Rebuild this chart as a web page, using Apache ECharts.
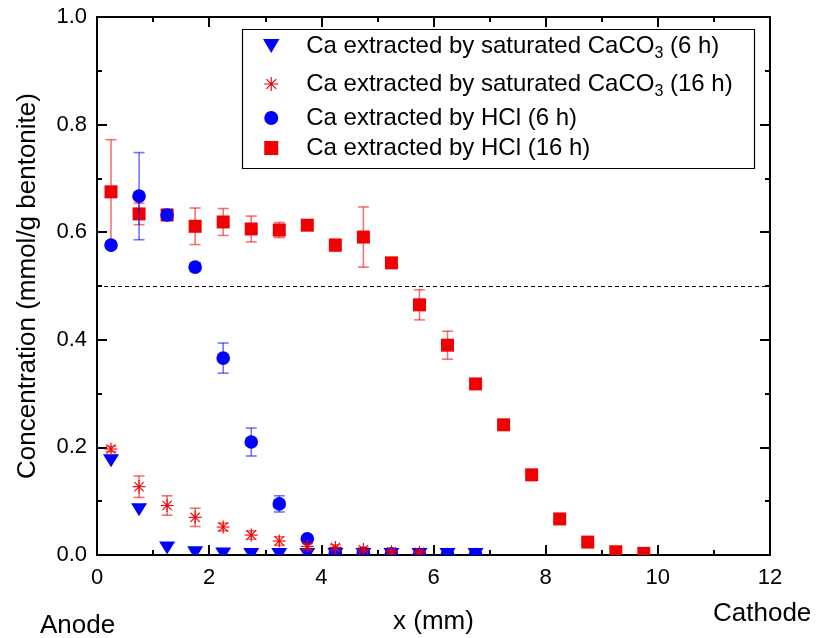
<!DOCTYPE html>
<html><head><meta charset="utf-8">
<script src="https://cdn.jsdelivr.net/npm/echarts@6/dist/echarts.min.js"></script>
<style>html,body{margin:0;padding:0;background:#fff}#c{width:823px;height:638px}</style>
</head><body><div id="c"></div>
<script>
// ---- data ----
const xHcl16 = [0.25,0.75,1.25,1.75,2.25,2.75,3.25,3.75,4.25,4.75,5.25,5.75,6.25,6.75,7.25,7.75,8.25,8.75,9.25,9.75];
const yHcl16 = [0.675,0.634,0.632,0.611,0.619,0.606,0.604,0.613,0.576,0.591,0.543,0.465,0.390,0.318,0.242,0.149,0.067,0.024,0.006,0.003];
const eHcl16 = [0.097,0.020,0.008,0.034,0.025,0.024,0.014,0.008,0.011,0.056,0.004,0.028,0.026,0.008,0.004,0.004,0.004,0.003,0.002,0.002];

const xHcl6 = [0.25,0.75,1.25,1.75,2.25,2.75,3.25,3.75,4.25,4.75,5.25,5.75,6.25,6.75];
const yHcl6 = [0.576,0.667,0.632,0.535,0.366,0.210,0.095,0.030,0.004,0.003,0.002,0.001,0.001,0.001];
const eHcl6 = [0.005,0.081,0.010,0.008,0.028,0.026,0.015,0.004,0.003,0,0,0,0,0];

const xCa6 = [0.25,0.75,1.25,1.75,2.25,2.75,3.25,3.75,4.25,4.75,5.25,5.75,6.25,6.75];
const yCa6 = [0.175,0.084,0.013,0.004,0.002,0.001,0.001,0.001,0.001,0.001,0.001,0.001,0.001,0.001];

const xCa16 = [0.25,0.75,1.25,1.75,2.25,2.75,3.25,3.75,4.25,4.75,5.25,5.75];
const yCa16 = [0.197,0.127,0.092,0.070,0.052,0.037,0.026,0.016,0.014,0.010,0.006,0.005];
const eCa16 = [0.005,0.020,0.018,0.017,0.007,0.008,0.008,0.005,0.005,0.004,0.003,0.002];

const refLine = 0.504;
const xTicks = [0,2,4,6,8,10,12];
const yTicks = [0.0,0.2,0.4,0.6,0.8,1.0];

const names = [
  'Ca extracted by saturated CaCO3 (6 h)',
  'Ca extracted by saturated CaCO3 (16 h)',
  'Ca extracted by HCl (6 h)',
  'Ca extracted by HCl (16 h)'
];

// ---- styles ----
const RED = '#f00000', BLUE = '#0000ff';
const RED_E = 'rgba(240,0,0,0.55)', BLUE_E = 'rgba(0,0,255,0.55)';
const FONT = '"Liberation Sans", Arial, sans-serif';

function zip(xs, ys, es) { return xs.map((x, i) => [x, ys[i], es ? es[i] : 0]); }

function makeRender(shape, color, ecolor) {
  return function (params, api) {
    const x = api.value(0), y = api.value(1), e = api.value(2);
    const p = api.coord([x, y]);
    const ch = [];
    if (e > 0) {
      const pt = api.coord([x, y + e]), pb = api.coord([x, y - e]);
      const st = { stroke: ecolor, lineWidth: 1.6 };
      ch.push({ type: 'line', shape: { x1: p[0], y1: pt[1], x2: p[0], y2: pb[1] }, style: st });
      ch.push({ type: 'line', shape: { x1: p[0] - 5.5, y1: pt[1], x2: p[0] + 5.5, y2: pt[1] }, style: st });
      ch.push({ type: 'line', shape: { x1: p[0] - 5.5, y1: pb[1], x2: p[0] + 5.5, y2: pb[1] }, style: st });
    }
    const cx = p[0], cy = p[1];
    if (shape === 'square') {
      ch.push({ type: 'rect', shape: { x: cx - 6.5, y: cy - 6.5, width: 13, height: 13 }, style: { fill: color } });
    } else if (shape === 'circle') {
      ch.push({ type: 'circle', shape: { cx: cx, cy: cy, r: 6.8 }, style: { fill: color } });
    } else if (shape === 'tri') {
      ch.push({ type: 'polygon', shape: { points: [[cx - 8, cy - 6.5], [cx + 8, cy - 6.5], [cx, cy + 6.5]] }, style: { fill: color } });
    } else if (shape === 'star') {
      const r = 6.5, d = r * 0.7071;
      const st = { stroke: color, lineWidth: 1.1 };
      ch.push({ type: 'line', shape: { x1: cx - r, y1: cy, x2: cx + r, y2: cy }, style: st });
      ch.push({ type: 'line', shape: { x1: cx, y1: cy - r, x2: cx, y2: cy + r }, style: st });
      ch.push({ type: 'line', shape: { x1: cx - d, y1: cy - d, x2: cx + d, y2: cy + d }, style: st });
      ch.push({ type: 'line', shape: { x1: cx - d, y1: cy + d, x2: cx + d, y2: cy - d }, style: st });
    }
    return { type: 'group', children: ch };
  };
}

const triPath = 'path://M0,0 L20,0 L10,17 Z';
const sqPath = 'path://M0,0 L10,0 L10,10 L0,10 Z';
const starPath = 'path://M0,10 L20,10 M10,0 L10,20 M2.93,2.93 L17.07,17.07 M2.93,17.07 L17.07,2.93';

const axisCommon = {
  axisLine: { onZero: false, lineStyle: { color: '#000', width: 2 } },
  axisTick: { inside: true, length: 10, lineStyle: { color: '#000', width: 2 } },
  minorTick: { show: true, splitNumber: 2, length: 5, lineStyle: { color: '#000', width: 2 } },
  splitLine: { show: false },
  minorSplitLine: { show: false }
};

const chart = echarts.init(document.getElementById('c'), null, { renderer: 'canvas' });

const option = {
  animation: false,
  backgroundColor: '#fff',
  grid: { left: 97, right: 53, top: 17, bottom: 83, containLabel: false, outerBoundsMode: 'none' },
  xAxis: [
    Object.assign({
      type: 'value', min: xTicks[0], max: xTicks[xTicks.length - 1], interval: 2, position: 'bottom',
      name: 'x (mm)', nameLocation: 'middle', nameGap: 54,
      nameTextStyle: { fontFamily: FONT, fontSize: 26, color: '#000' },
      axisLabel: { fontFamily: FONT, fontSize: 22, color: '#000', margin: 12 }
    }, axisCommon),
    Object.assign({
      type: 'value', min: 0, max: 12, interval: 2, position: 'top',
      axisLabel: { show: false }
    }, axisCommon)
  ],
  yAxis: [
    Object.assign({
      type: 'value', min: yTicks[0], max: yTicks[yTicks.length - 1], interval: 0.2, position: 'left',
      name: 'Concentration (mmol/g bentonite)', nameLocation: 'middle', nameGap: 56,
      nameTextStyle: { fontFamily: FONT, fontSize: 26, color: '#000' },
      axisLabel: { fontFamily: FONT, fontSize: 22, color: '#000', margin: 10, formatter: v => v.toFixed(1) }
    }, axisCommon),
    Object.assign({
      type: 'value', min: 0, max: 1, interval: 0.2, position: 'right',
      axisLabel: { show: false }
    }, axisCommon)
  ],
  legend: {
    orient: 'vertical', left: 263, top: 27,
    padding: [3, 0, 2, 0], itemGap: 6,
    itemWidth: 60, itemHeight: 14,
    borderWidth: 0,
    data: [
      { name: names[0], icon: triPath, itemStyle: { color: BLUE, opacity: 1 } },
      { name: names[1], icon: starPath, itemStyle: { color: 'rgba(0,0,0,0)', borderColor: RED, borderWidth: 1.1, opacity: 1 } },
      { name: names[2], icon: 'circle', itemStyle: { color: BLUE, opacity: 1 } },
      { name: names[3], icon: sqPath, itemStyle: { color: RED, opacity: 1 } }
    ],
    formatter: function (n) {
      const i = n.indexOf('CaCO3');
      if (i >= 0) {
        return '{a|' + n.slice(0, i + 4) + '}{s|3}{a|' + n.slice(i + 5) + '}';
      }
      return '{a|' + n + '}';
    },
    textStyle: {
      fontFamily: FONT, fontSize: 24, color: '#000',
      rich: {
        a: { fontFamily: FONT, fontSize: 24, lineHeight: 32, color: '#000' },
        s: { fontFamily: FONT, fontSize: 16, lineHeight: 16, padding: [16, 0, 0, 0], color: '#000' }
      }
    }
  },
  graphic: [
    { type: 'rect', left: 240, top: 27, shape: { width: 512, height: 139 }, style: { fill: 'none', stroke: '#000', lineWidth: 1.2 }, z: 1 },
    { type: 'text', left: 40, top: 613, style: { text: 'Anode', font: '26px ' + FONT, fill: '#000' } },
    { type: 'text', left: 713, top: 601, style: { text: 'Cathode', font: '26px ' + FONT, fill: '#000' } }
  ],
  series: [
    // legend proxies
    { name: names[0], type: 'scatter', data: [], symbol: triPath, itemStyle: { color: BLUE, opacity: 1 } },
    { name: names[1], type: 'scatter', data: [], symbol: starPath, itemStyle: { color: RED, opacity: 1 } },
    { name: names[2], type: 'scatter', data: [], symbol: 'circle', itemStyle: { color: BLUE, opacity: 1 } },
    { name: names[3], type: 'scatter', data: [], symbol: sqPath, itemStyle: { color: RED, opacity: 1 } },
    // drawn marks
    { type: 'custom', clip: true, z: 2, data: zip(xHcl16, yHcl16, eHcl16), renderItem: makeRender('square', RED, RED_E),
      markLine: { silent: true, symbol: ['none', 'none'], label: { show: false },
        lineStyle: { color: '#000', type: [4, 3], width: 1 }, data: [{ yAxis: refLine }] } },
    { type: 'custom', clip: true, z: 3, data: zip(xHcl6, yHcl6, eHcl6), renderItem: makeRender('circle', BLUE, BLUE_E) },
    { type: 'custom', clip: true, z: 4, data: zip(xCa6, yCa6, null), renderItem: makeRender('tri', BLUE, BLUE_E) },
    { type: 'custom', clip: true, z: 5, data: zip(xCa16, yCa16, eCa16), renderItem: makeRender('star', RED, RED_E) }
  ]
};
chart.setOption(option);
</script>
</body></html>
